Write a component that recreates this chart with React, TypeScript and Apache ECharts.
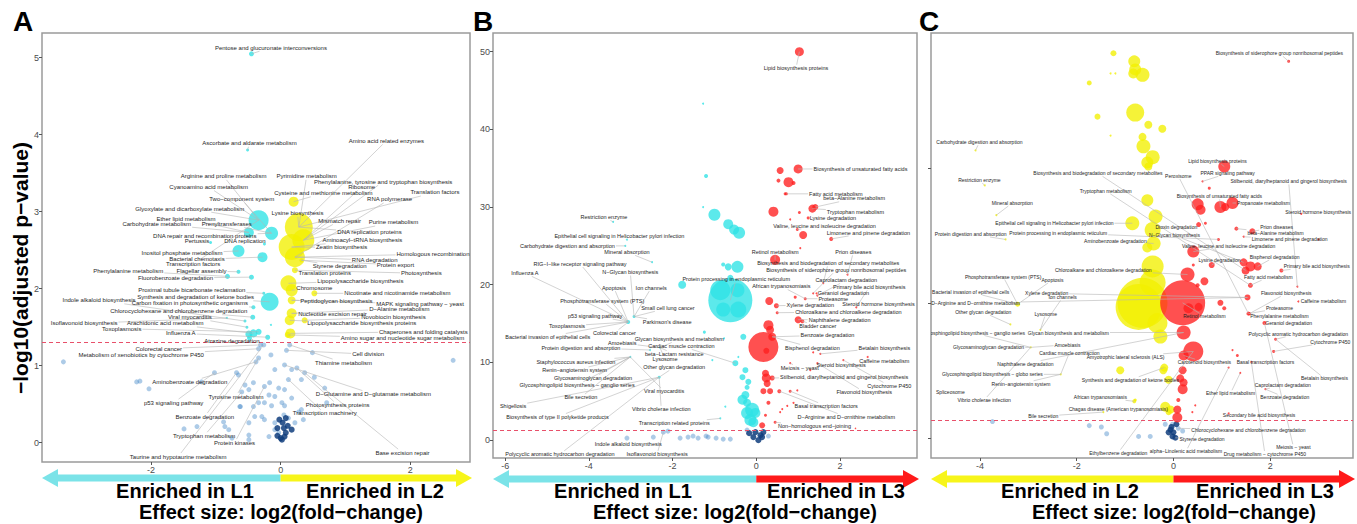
import React, { useEffect, useRef } from "react";
import * as echarts from "echarts";

// ---------------- Panel A (L1 vs L2) ----------------
// [log2FC, -log10(adj p), point size]
const A_CYAN = [
  [-0.45, 5.05, 5], [-0.51, 3.8, 3], [-0.34, 2.89, 20], [-0.14, 2.72, 13], [-0.49, 2.73, 10],
  [-0.65, 2.49, 12], [-0.28, 2.41, 10], [-0.25, 2.58, 3], [-0.17, 1.83, 18], [-0.82, 2.16, 5],
  [-0.45, 2.15, 5], [-0.65, 2.22, 4], [-0.26, 1.94, 3], [-0.42, 1.76, 4], [-0.55, 1.58, 3],
  [-0.42, 1.42, 8], [-0.34, 1.44, 6], [-0.2, 1.37, 5], [-0.15, 1.53, 2], [-1.08, 2.6, 3],
  [-0.43, 1.63, 5], [-0.52, 1.5, 3], [-0.49, 1.41, 7], [-0.83, 1.62, 2], [-0.48, 1.36, 5],
];
const A_YELLOW = [
  [0.2, 3.13, 10], [0.28, 2.8, 28], [0.17, 2.54, 26], [0.35, 2.63, 22], [0.22, 2.41, 20],
  [0.12, 2.07, 16], [0.17, 1.98, 12], [0.52, 1.94, 6], [0.17, 1.68, 10], [0.14, 1.59, 10],
  [0.37, 1.59, 6], [0.15, 1.42, 10], [0.11, 1.4, 6], [0.22, 2.24, 6], [0.32, 2.37, 4],
  [0.17, 1.85, 8],
];
const A_BLUE = [
  [-3.35, 1.05], [2.66, 1.07], [-2.22, 0.79], [-2.17, 0.8], [-2.03, 0.7], [-1.49, 0.18],
  [-1.29, 0.21], [-1.22, 0.79], [-1.02, 0.91], [-0.88, 0.27], [-0.8, 0.17], [-0.75, 0.06],
  [-0.68, 0.91], [-0.65, 0.88], [-0.62, 0.47], [-0.49, 0.1], [-0.49, 0.04], [-0.4, 0.34],
  [-0.38, 1.05], [-0.34, 1.1], [-0.34, 1.22], [-0.31, 1.27], [-0.25, 0.73], [-0.18, 0.62],
  [-0.15, 1.14], [-0.14, 0.48], [-0.09, 0.26], [-0.03, 0.13], [0.06, 1.01], [0.09, 1.2],
  [0.14, 1.27], [0.12, 0.82], [0.17, 0.58], [0.22, 0.26], [0.25, 0.97], [0.28, 0.4],
  [0.35, 0.3], [0.37, 0.91], [0.49, 1.17], [0.52, 0.85], [0.68, 0.71], [0.71, 0.52],
  [-0.6, 0.66], [-0.55, 0.75], [-0.34, 0.52], [-0.09, 0.95], [-0.03, 0.71], [0.06, 0.48],
  [0.05, 0.36], [0.12, 0.32], [-0.18, 0.08], [-0.09, 0.17], [-0.25, 0.3], [-0.26, 1.27],
  [-0.42, 0.78], [-0.49, 0.69], [-0.17, 0.78], [-0.09, 0.6], [0.02, 0.52], [0.06, 0.69],
  [0.17, 0.95], [0.32, 0.82], [0.32, 0.43], [-0.25, 0.52], [-0.42, 0.47], [-0.49, 0.26],
  [-0.86, 0.21], [-0.29, 0.34], [-0.63, 0.47],
];
const A_NAVY = [
  [0.02, 0.04], [0, 0.06], [0.06, 0.08], [-0.05, 0.09], [0.08, 0.13], [0.05, 0.19],
  [0.03, 0.26], [0.08, 0.32], [-0.05, 0.19], [0.11, 0.22], [-0.02, 0.3], [0.17, 0.17],
];
// [name, label x, label y, point x, point y]
const A_LABELS = [
  ["Pentose and glucuronate interconversions", -0.15, 5.13, -0.45, 5.05],
  ["Ascorbate and aldarate metabolism", -0.48, 3.89, -0.51, 3.8],
  ["Amino acid related enzymes", 1.63, 3.92, 0.28, 2.8],
  ["Arginine and proline metabolism", -0.88, 3.46, -0.34, 2.89],
  ["Pyrimidine metabolism", 0.4, 3.46, 0.28, 2.8],
  ["Phenylalanine, tyrosine and tryptophan biosynthesis", 1.58, 3.39, 0.35, 2.63],
  ["Ribosome", 1.25, 3.32, 0.35, 2.63],
  ["Cyanoamino acid metabolism", -1.11, 3.32, -0.34, 2.89],
  ["Cysteine and methionine metabolism", 0.66, 3.24, 0.2, 3.13],
  ["Translation factors", 2.38, 3.25, 0.28, 2.8],
  ["RNA polymerase", 1.68, 3.16, 0.22, 2.41],
  ["Two−component system", -0.6, 3.16, -0.14, 2.72],
  ["Glyoxylate and dicarboxylate metabolism", -1.4, 3.04, -0.34, 2.89],
  ["Lysine biosynthesis", 0.26, 2.98, 0.28, 2.8],
  ["Ether lipid metabolism", -1.46, 2.91, -0.49, 2.73],
  ["Mismatch repair", 0.91, 2.88, 0.35, 2.63],
  ["Purine metabolism", 1.74, 2.86, 0.35, 2.63],
  ["Carbohydrate metabolism", -1.91, 2.84, -0.49, 2.73],
  ["Prenyltransferases", -0.83, 2.84, -0.14, 2.72],
  ["DNA replication proteins", 1.37, 2.73, 0.28, 2.8],
  ["DNA repair and recombination proteins", -1.17, 2.69, -0.14, 2.72],
  ["Pertussis", -1.29, 2.62, -1.08, 2.6],
  ["DNA replication", -0.55, 2.62, -0.25, 2.58],
  ["Aminoacyl−tRNA biosynthesis", 1.26, 2.63, 0.17, 2.54],
  ["Zeatin biosynthesis", 0.94, 2.54, 0.17, 2.54],
  ["Inositol phosphate metabolism", -1.52, 2.46, -0.65, 2.49],
  ["Homologous recombination", 2.35, 2.45, 0.22, 2.41],
  ["Bacterial chemotaxis", -1.29, 2.38, -0.28, 2.41],
  ["RNA degradation", 1.45, 2.37, 0.22, 2.41],
  ["Transcription factors", -1.35, 2.32, -0.34, 2.89],
  ["Styrene degradation", 0.91, 2.29, 0.32, 2.37],
  ["Protein export", 1.77, 2.31, 0.32, 2.37],
  ["Phenylalanine metabolism", -2.35, 2.23, -0.82, 2.16],
  ["Flagellar assembly", -1.22, 2.23, -0.65, 2.22],
  ["Translation proteins", 0.68, 2.2, 0.22, 2.24],
  ["Photosynthesis", 2.17, 2.2, 0.22, 2.24],
  ["Fluorobenzoate degradation", -1.62, 2.14, -0.45, 2.15],
  ["Lipopolysaccharide biosynthesis", 1.23, 2.1, 0.12, 2.07],
  ["Chromosome", 0.52, 2.01, 0.17, 1.98],
  ["Proximal tubule bicarbonate reclamation", -1.37, 1.98, -0.26, 1.94],
  ["Nicotinate and nicotinamide metabolism", 1.8, 1.94, 0.52, 1.94],
  ["Synthesis and degradation of ketone bodies", -1.31, 1.89, -0.17, 1.83],
  ["Indole alkaloid biosynthesis", -2.8, 1.85, -0.55, 1.58],
  ["Peptidoglycan biosynthesis", 0.86, 1.84, 0.17, 1.85],
  ["Carbon fixation in photosynthetic organisms", -1.4, 1.81, -0.42, 1.76],
  ["MAPK signaling pathway − yeast", 2.15, 1.8, 0.17, 1.85],
  ["D−Alanine metabolism", 1.83, 1.74, 0.17, 1.68],
  ["Chlorocyclohexane and chlorobenzene degradation", -1.57, 1.71, -0.43, 1.63],
  ["Nucleotide excision repair", 0.8, 1.67, 0.17, 1.68],
  ["Viral myocarditis", -1.4, 1.63, -0.52, 1.5],
  ["Novobiocin biosynthesis", 1.74, 1.63, 0.37, 1.59],
  ["Isoflavonoid biosynthesis", -3.03, 1.55, -0.83, 1.62],
  ["Arachidonic acid metabolism", -1.78, 1.55, -0.42, 1.42],
  ["Lipopolysaccharide biosynthesis proteins", 1.25, 1.55, 0.14, 1.59],
  ["Toxoplasmosis", -2.45, 1.48, -0.34, 1.44],
  ["Chaperones and folding catalysts", 2.2, 1.44, 0.15, 1.42],
  ["Influenza A", -1.54, 1.42, -0.2, 1.37],
  ["Amino sugar and nucleotide sugar metabolism", 1.88, 1.36, 0.11, 1.4],
  ["Atrazine degradation", -0.75, 1.32, -0.31, 1.27],
  ["Colorectal cancer", -1.88, 1.22, -0.31, 1.27],
  ["Metabolism of xenobiotics by cytochrome P450", -2.15, 1.14, -0.34, 1.22],
  ["Cell division", 1.35, 1.15, 0.09, 1.2],
  ["Thiamine metabolism", 0.97, 1.04, 0.14, 1.27],
  ["Aminobenzoate degradation", -1.4, 0.79, -0.38, 1.05],
  ["D−Glutamine and D−glutamate metabolism", 1.43, 0.63, 0.06, 1.01],
  ["Tyrosine metabolism", -0.69, 0.6, -0.34, 1.1],
  ["p53 signaling pathway", -1.65, 0.52, -1.02, 0.91],
  ["Photosynthesis proteins", 0.88, 0.49, 0.25, 0.97],
  ["Transcription machinery", 0.68, 0.38, 0.12, 0.82],
  ["Benzoate degradation", -1.17, 0.34, -0.68, 0.91],
  ["Tryptophan metabolism", -1.18, 0.09, -0.6, 0.66],
  ["Protein kinases", -0.71, 0.0, -0.25, 0.73],
  ["Base excision repair", 1.88, -0.13, 0.37, 0.91],
  ["Taurine and hypotaurine metabolism", -1.58, -0.18, -0.26, 1.27],
];

// ---------------- Panel B (L1 vs L3) ----------------
const B_CYAN = [
  [-1.27, 43.3, 2], [-1.2, 34.0, 4], [-1.27, 30.0, 2], [-1.0, 29.0, 12], [-0.67, 27.8, 10],
  [-0.53, 27.1, 10], [-0.41, 26.7, 12], [-0.45, 22.3, 12], [-0.67, 22.3, 7], [-0.79, 22.6, 4],
  [-0.62, 20.9, 6], [-0.62, 18.0, 44], [-0.86, 19.3, 20], [-0.45, 19.3, 14], [-0.43, 16.8, 16],
  [-0.79, 16.8, 14], [-1.77, 20.0, 8], [-1.24, 13.9, 3], [-0.31, 13.3, 6], [-0.77, 13.1, 2],
  [-0.43, 10.7, 2], [-1.05, 10.3, 2], [-0.26, 9.0, 6], [-0.33, 8.1, 6], [-0.19, 7.5, 6],
  [-0.22, 6.8, 5], [-2.32, 8.1, 3], [-0.22, 4.8, 8], [-0.1, 3.9, 14], [-0.22, 3.5, 12],
  [-0.14, 2.6, 12], [-0.02, 3.5, 10], [-0.07, 2.3, 10], [-0.74, 4.3, 2], [-3.42, 28.1, 2],
  [-3.09, 25.8, 2], [-3.06, 15.2, 4], [-2.92, 15.9, 3], [-2.3, 11.9, 2], [-0.5, 9.9, 6],
  [-0.86, 2.8, 2], [-3.13, 25.0, 2], [-2.49, 22.9, 2], [-2.54, 11.6, 2], [-3.01, 10.7, 2],
  [-0.26, 5.8, 8], [-0.33, 5.2, 10],
];
const B_RED = [
  [1.03, 50.0, 9], [0.57, 34.7, 7], [1.0, 34.9, 9], [0.77, 33.2, 10], [0.53, 33.4, 4],
  [0.89, 33.1, 4], [0.72, 31.7, 3], [0.41, 29.4, 10], [1.03, 29.3, 3], [1.34, 29.8, 8],
  [1.41, 30.0, 6], [1.12, 26.4, 8], [1.79, 25.9, 4], [0.98, 27.1, 3], [0.45, 23.2, 10],
  [0.31, 17.9, 8], [0.48, 17.3, 5], [0.5, 16.4, 3], [1.0, 15.5, 7], [0.93, 18.4, 3],
  [1.44, 18.9, 2], [0.29, 14.8, 10], [0.33, 14.2, 8], [0.17, 12.0, 30], [0.38, 13.3, 8],
  [0.24, 11.5, 6], [0.24, 8.0, 9], [0.22, 8.6, 7], [0.26, 7.3, 7], [0.17, 6.3, 6],
  [0.33, 6.3, 6], [0.38, 8.0, 5], [0.55, 6.3, 4], [0.81, 6.3, 3], [0.98, 6.4, 2],
  [0.29, 4.8, 4], [0.22, 3.2, 3], [0.14, 1.9, 6], [0.57, 3.6, 2], [0.74, 4.4, 2],
  [1.29, 9.0, 2], [1.46, 9.9, 2], [2.08, 10.3, 2], [0.81, 9.9, 2], [1.36, 11.3, 2],
  [2.18, 21.3, 2], [1.6, 20.2, 2], [2.39, 17.1, 2], [1.36, 18.9, 2], [1.46, 18.6, 2],
  [1.17, 18.2, 3], [0.69, 31.7, 3], [1.24, 28.6, 3], [1.1, 15.3, 4], [1.53, 11.1, 2],
  [0.89, 4.8, 2], [0.62, 4.0, 2], [0.45, 2.3, 3], [2.37, 1.5, 1.5], [2.66, 10.7, 2],
  [1.05, 24.7, 2], [0.81, 28.4, 2],
];
const B_BLUE = [
  [-3.09, 0.26], [-2.46, 0.39], [-2.22, 1.03], [-1.63, 0.39], [-1.39, 0.26], [-1.15, 0.39],
  [-0.96, 0.26], [-0.79, 0.13], [-0.62, 0.13], [-1.2, 0.52], [-1.82, 0.26], [-2.11, 1.16],
  [-1.51, 0.52], [0.29, 0.52], [-0.22, 1.29],
];
const B_NAVY = [
  [-0.07, 0.39], [0.05, 0.0], [0.14, 0.39], [-0.02, 1.03], [0.17, 1.03], [-0.17, 0.9], [0.1, 0.64],
];
const B_LABELS = [
  ["Lipid biosynthesis proteins", 0.95, 47.9, 1.03, 50.0],
  ["Biosynthesis of unsaturated fatty acids", 2.49, 34.9, 1.0, 34.9],
  ["Restriction enzyme", -3.64, 28.7, -3.42, 28.1],
  ["Fatty acid metabolism", 1.9, 31.7, 0.72, 31.7],
  ["beta−Alanine metabolism", 2.34, 31.1, 1.41, 30.0],
  ["Tryptophan metabolism", 2.37, 29.4, 1.34, 29.8],
  ["Lysine degradation", 1.83, 28.6, 1.24, 28.6],
  ["Valine, leucine and isoleucine degradation", 1.63, 27.6, 0.98, 27.1],
  ["Limonene and pinene degradation", 2.68, 26.7, 1.79, 25.9],
  ["Epithelial cell signaling in Helicobacter pylori infection", -3.27, 26.3, -3.09, 25.8],
  ["Carbohydrate digestion and absorption", -4.51, 25.0, -3.13, 25.0],
  ["Mineral absorption", -3.09, 24.2, -2.49, 22.9],
  ["Retinol metabolism", 0.45, 24.2, 0.45, 23.2],
  ["Prion diseases", 2.32, 24.2, 2.18, 21.3],
  ["RIG−I−like receptor signaling pathway", -4.21, 22.7, -3.06, 15.2],
  ["Biosynthesis and biodegradation of secondary metabolites", 1.72, 22.8, 1.6, 20.2],
  ["Biosynthesis of siderophore group nonribosomal peptides", 1.91, 21.9, 1.36, 18.9],
  ["Influenza A", -5.53, 21.5, -3.06, 15.2],
  ["N−Glycan biosynthesis", -3.01, 21.6, -2.92, 15.9],
  ["Protein processing in endoplasmic reticulum", -0.48, 20.7, -0.62, 18.0],
  ["Caprolactam degradation", 2.15, 20.6, 1.46, 18.6],
  ["African trypanosomiasis", 0.6, 19.8, 1.17, 18.2],
  ["Primary bile acid biosynthesis", 2.7, 19.7, 2.39, 17.1],
  ["Apoptosis", -3.4, 19.6, -3.06, 15.2],
  ["Ion channels", -2.51, 19.6, -2.92, 15.9],
  ["Geraniol degradation", 2.08, 18.95, 1.46, 18.6],
  ["Proteasome", 1.84, 18.2, 1.17, 18.2],
  ["Phosphotransferase system (PTS)", -3.68, 17.9, -3.06, 15.2],
  ["Xylene degradation", 1.29, 17.4, 0.48, 17.3],
  ["Steroid hormone biosynthesis", 2.92, 17.5, 2.39, 17.1],
  ["Small cell lung cancer", -2.11, 17.0, -2.92, 15.9],
  ["Chloroalkane and chloroalkene degradation", 2.2, 16.5, 0.5, 16.4],
  ["p53 signaling pathway", -3.85, 16.0, -3.06, 15.2],
  ["Naphthalene degradation", 1.99, 15.5, 1.0, 15.5],
  ["Parkinson's disease", -2.13, 15.2, -2.92, 15.9],
  ["Toxoplasmosis", -4.52, 14.7, -3.06, 15.2],
  ["Bladder cancer", 1.47, 14.7, 1.1, 15.3],
  ["Colorectal cancer", -3.39, 13.8, -3.06, 15.2],
  ["Benzoate degradation", 1.7, 13.5, 0.38, 13.3],
  ["Bacterial invasion of epithelial cells", -4.98, 13.3, -3.06, 15.2],
  ["Glycan biosynthesis and metabolism", -1.84, 13.0, -2.3, 11.9],
  ["Amoebiasis", -3.2, 12.5, -2.3, 11.9],
  ["Cardiac muscle contraction", -1.79, 12.1, -0.5, 9.9],
  ["Protein digestion and absorption", -4.19, 11.9, -2.54, 11.6],
  ["Bisphenol degradation", 1.34, 11.9, 0.38, 13.3],
  ["Betalain biosynthesis", 3.06, 11.9, 1.53, 11.1],
  ["beta−Lactam resistance", -1.96, 11.1, -2.3, 11.9],
  ["Lysosome", -2.18, 10.4, -2.3, 11.9],
  ["Caffeine metabolism", 3.06, 10.2, 2.66, 10.7],
  ["Staphylococcus aureus infection", -4.31, 10.1, -3.01, 10.7],
  ["Other glycan degradation", -1.96, 9.4, -2.32, 8.1],
  ["Meiosis − yeast", 1.04, 9.3, 0.81, 9.9],
  ["Steroid biosynthesis", 2.03, 9.7, 1.46, 9.9],
  ["Renin−angiotensin system", -4.34, 9.0, -3.01, 10.7],
  ["Stilbenoid, diarylheptanoid and gingerol biosynthesis", 2.1, 8.1, 0.38, 8.0],
  ["Glycosaminoglycan degradation", -3.9, 8.0, -3.01, 10.7],
  ["Glycosphingolipid biosynthesis − ganglio series", -4.28, 7.1, -3.01, 10.7],
  ["Cytochrome P450", 3.18, 7.0, 2.08, 10.3],
  ["Viral myocarditis", -2.2, 6.3, -3.01, 10.7],
  ["Flavonoid biosynthesis", 2.58, 6.2, 1.46, 9.9],
  ["Bile secretion", -4.19, 5.5, -3.01, 10.7],
  ["Shigellosis", -5.81, 4.4, -2.32, 8.1],
  ["Vibrio cholerae infection", -2.27, 4.0, -2.32, 8.1],
  ["Basal transcription factors", 1.67, 4.4, 0.81, 6.3],
  ["Biosynthesis of type II polyketide products", -4.75, 3.0, -2.32, 8.1],
  ["D−Arginine and D−ornithine metabolism", 2.15, 3.0, 0.55, 6.3],
  ["Transcription related proteins", -1.96, 2.2, -0.86, 2.8],
  ["Non−homologous end−joining", 1.39, 1.8, 0.45, 2.3],
  ["Indole alkaloid biosynthesis", -3.06, -0.5, -3.09, 0.26],
  ["Polycyclic aromatic hydrocarbon degradation", -4.69, -1.8, -2.32, 8.1],
  ["Isoflavonoid biosynthesis", -2.37, -1.8, -2.22, 1.03],
];

// ---------------- Panel C (L2 vs L3) ----------------
const C_YELLOW = [
  [-1.24, 28.5, 6], [-0.81, 27.9, 12], [-0.79, 27.3, 12], [-0.64, 26.9, 14], [-0.83, 27.0, 10],
  [-1.74, 26.3, 5], [-1.3, 27.0, 2], [-1.2, 27.0, 2], [-0.79, 24.1, 18], [-1.57, 23.8, 6],
  [-0.52, 23.2, 8], [-0.23, 22.9, 8], [-1.3, 22.4, 2], [-0.64, 22.3, 8], [-0.62, 21.6, 14],
  [-0.43, 20.8, 14], [-0.54, 20.4, 12], [-0.52, 20.1, 8], [-0.54, 17.6, 12], [-0.85, 15.9, 14],
  [-0.37, 16.4, 14], [-0.43, 15.4, 16], [-0.41, 14.4, 14], [-0.54, 14.1, 10], [-0.64, 10.0, 50],
  [-0.72, 9.7, 46], [-0.43, 11.5, 26], [-0.43, 12.7, 22], [-0.33, 8.5, 20], [-0.27, 7.5, 14],
  [-1.1, 5.0, 8], [-0.21, 5.0, 8], [-0.1, 4.3, 8], [-0.79, 2.8, 3], [-0.17, 2.3, 10],
  [-0.06, 2.1, 8], [-0.1, 1.9, 6], [-3.22, 9.9, 5], [-3.9, 18.7, 2], [-3.66, 16.5, 2],
  [-3.47, 14.7, 2], [-3.37, 8.4, 2], [-2.75, 8.0, 2], [-4.09, 21.3, 2], [-2.95, 6.7, 2],
  [-2.33, 4.7, 2], [-1.45, 1.9, 2], [-0.81, 2.7, 4], [-0.19, 5.2, 8],
];
const C_RED = [
  [1.05, 20.1, 12], [0.74, 18.5, 3], [0.6, 19.0, 2], [0.5, 17.3, 12], [0.56, 16.9, 10],
  [0.97, 17.1, 12], [1.22, 17.4, 12], [1.07, 17.1, 8], [0.52, 15.8, 5], [0.66, 15.9, 3],
  [1.3, 15.5, 4], [1.63, 15.3, 6], [0.93, 14.7, 3], [1.45, 14.9, 2], [0.41, 13.8, 12],
  [0.79, 12.8, 6], [0.41, 12.8, 3], [1.45, 13.0, 8], [1.59, 12.7, 10], [1.74, 12.7, 8],
  [1.49, 12.4, 8], [0.29, 12.1, 14], [0.64, 11.6, 8], [0.5, 11.3, 4], [1.59, 11.3, 5],
  [0.19, 10.0, 45], [0.31, 9.6, 10], [0.52, 9.7, 8], [0.97, 10.0, 6], [1.05, 9.6, 4],
  [1.53, 10.4, 6], [1.57, 9.2, 3], [0.21, 7.8, 14], [0.41, 6.4, 20], [0.21, 6.1, 10],
  [0.19, 5.0, 8], [0.14, 4.4, 8], [0.21, 4.1, 8], [0.19, 3.6, 10], [0.1, 2.8, 4],
  [0.08, 2.1, 8], [0.08, 1.5, 10], [0.45, 2.4, 2], [1.14, 5.2, 2], [1.32, 6.1, 3],
  [1.22, 6.5, 2], [1.61, 5.6, 2], [2.11, 7.3, 3], [2.07, 6.4, 3], [1.38, 4.8, 2],
  [1.9, 3.6, 2], [0.39, 1.9, 2], [1.88, 8.5, 4], [1.55, 9.2, 4], [2.23, 12.4, 4],
  [2.56, 11.2, 2], [2.58, 10.1, 2], [2.64, 16.6, 2], [3.0, 14.7, 2], [2.38, 27.9, 3],
  [1.14, 1.8, 2],
];
const C_BLUE = [
  [-1.74, 0.9], [-1.49, 0.8], [-1.38, 0.3], [-0.72, 0.1], [-0.48, 0.1], [-3.74, 1.2],
  [-0.17, 1.0], [-0.02, 1.0], [0.1, 0.7], [0.19, 0.5],
];
const C_NAVY = [
  [-0.06, 0.6], [0, 0.4], [-0.02, 0.1], [0.04, 0], [-0.04, 0.8], [0.06, 1.0], [-0.1, 0.4],
];
const C_LABELS = [
  ["Biosynthesis of siderophore group nonribosomal peptides", 2.19, 28.5, 2.38, 27.9],
  ["Carbohydrate digestion and absorption", -4.01, 21.9, -4.09, 21.3],
  ["Lipid biosynthesis proteins", 0.91, 20.5, 1.05, 20.1],
  ["Biosynthesis and biodegradation of secondary metabolites", -1.56, 19.6, 1.49, 12.4],
  ["PPAR signaling pathway", 1.12, 19.6, 0.6, 19.0],
  ["Peroxisome", 0.1, 19.4, 1.55, 9.2],
  ["Stilbenoid, diarylheptanoid and gingerol biosynthesis", 2.38, 19.0, 2.56, 11.2],
  ["Restriction enzyme", -4.01, 19.1, -3.9, 18.7],
  ["Tryptophan metabolism", -1.4, 18.3, 1.59, 11.3],
  ["Biosynthesis of unsaturated fatty acids", 0.95, 17.9, 0.97, 17.1],
  ["Propanoate metabolism", 1.86, 17.4, 1.22, 17.4],
  ["Mineral absorption", -3.33, 17.4, -3.66, 16.5],
  ["Steroid hormone biosynthesis", 2.99, 16.7, 2.64, 16.6],
  ["Epithelial cell signaling in Helicobacter pylori infection", -2.46, 15.9, -0.85, 15.9],
  ["Dioxin degradation", 0.06, 15.6, 0.52, 15.8],
  ["Prion diseases", 2.13, 15.6, 1.63, 15.3],
  ["Protein digestion and absorption", -4.19, 15.1, -3.47, 14.7],
  ["Protein processing in endoplasmic reticulum", -2.38, 15.2, 0.93, 14.7],
  ["N−Glycan biosynthesis", 0.02, 15.0, 1.45, 13.0],
  ["beta−Alanine metabolism", 2.11, 15.2, 1.3, 15.5],
  ["Aminobenzoate degradation", -1.2, 14.6, -0.41, 14.4],
  ["Limonene and pinene degradation", 2.4, 14.7, 1.45, 14.9],
  ["Valine, leucine and isoleucine degradation", 1.14, 14.2, 0.41, 13.8],
  ["Lysine degradation", 0.95, 13.2, 0.79, 12.8],
  ["Bisphenol degradation", 2.09, 13.4, 1.74, 12.7],
  ["Primary bile acid biosynthesis", 2.96, 12.7, 2.23, 12.4],
  ["Chloroalkane and chloroalkene degradation", -1.45, 12.4, 0.29, 12.1],
  ["Fatty acid metabolism", 1.96, 11.9, 1.59, 11.3],
  ["Phosphotransferase system (PTS)", -3.52, 11.95, -3.22, 9.9],
  ["Apoptosis", -2.5, 11.7, -3.22, 9.9],
  ["Bacterial invasion of epithelial cells", -4.19, 10.8, -3.22, 9.9],
  ["Xylene degradation", -2.62, 10.7, 1.53, 10.4],
  ["Ion channels", -2.29, 10.4, -2.75, 8.0],
  ["Flavonoid biosynthesis", 2.33, 10.7, 1.57, 9.2],
  ["D−Arginine and D−ornithine metabolism", -4.09, 10.0, 1.53, 10.4],
  ["Caffeine metabolism", 3.1, 10.1, 2.58, 10.1],
  ["Other glycan degradation", -3.93, 9.3, -3.37, 8.4],
  ["Lysosome", -2.64, 9.2, -2.75, 8.0],
  ["Retinol metabolism", 0.64, 9.0, 0.19, 10.0],
  ["Proteasome", 2.19, 9.6, 1.55, 9.2],
  ["Phenylalanine metabolism", 2.19, 9.0, 1.57, 9.2],
  ["Geraniol degradation", 2.38, 8.5, 1.88, 8.5],
  ["Glycosphingolipid biosynthesis − ganglio series", -4.15, 7.8, -2.95, 6.7],
  ["Glycan biosynthesis and metabolism", -2.17, 7.8, 0.21, 7.8],
  ["Polycyclic aromatic hydrocarbon degradation", 2.58, 7.7, 2.11, 7.3],
  ["Cytochrome P450", 3.24, 7.1, 2.07, 6.4],
  ["Glycosaminoglycan degradation", -3.82, 6.7, -2.95, 6.7],
  ["Amoebiasis", -2.19, 6.9, -2.95, 6.7],
  ["Cardiac muscle contraction", -2.15, 6.3, -2.33, 4.7],
  ["Amyotrophic lateral sclerosis (ALS)", -0.99, 6.0, 0.41, 6.4],
  ["Naphthalene degradation", -3.06, 5.5, 0.21, 7.8],
  ["Carotenoid biosynthesis", 0.64, 5.6, 0.21, 6.1],
  ["Basal transcription factors", 1.9, 5.6, 1.61, 5.6],
  ["Glycosphingolipid biosynthesis − globo series", -3.74, 4.7, -2.33, 4.7],
  ["Betalain biosynthesis", 3.12, 4.4, 2.11, 7.3],
  ["Synthesis and degradation of ketone bodies", -0.89, 4.3, -0.19, 5.2],
  ["Renin−angiotensin system", -3.15, 4.0, -2.33, 4.7],
  ["Caprolactam degradation", 2.26, 3.9, 1.9, 3.6],
  ["Spliceosome", -4.61, 3.4, -4.61, 3.4],
  ["Ether lipid metabolism", 1.18, 3.3, 1.38, 4.8],
  ["Vibrio cholerae infection", -3.91, 2.8, -2.95, 6.7],
  ["Benzoate degradation", 2.3, 3.0, 1.9, 3.6],
  ["African trypanosomiasis", -1.51, 3.0, -0.81, 2.7],
  ["Chagas disease (American trypanosomiasis)", -1.14, 2.1, -0.1, 1.9],
  ["Secondary bile acid biosynthesis", 1.77, 1.7, 1.14, 1.8],
  ["Bile secretion", -2.69, 1.6, -1.45, 1.9],
  ["Chlorocyclohexane and chlorobenzene degradation", 1.55, 0.6, 0.1, 0.7],
  ["Styrene degradation", 0.59, -0.1, 0.04, 0],
  ["Ethylbenzene degradation", -1.14, -1.1, 0.41, 6.4],
  ["alpha−Linolenic acid metabolism", 0.26, -1.0, 1.14, 5.2],
  ["Drug metabolism − cytochrome P450", 1.89, -1.2, 1.61, 5.6],
  ["Meiosis − yeast", 2.48, -0.7, 1.88, 8.5],
];

const X_TICKS_A = [-2, 0, 2];
const Y_TICKS_A = [0, 1, 2, 3, 4, 5];
const X_TICKS_B = [-6, -4, -2, 0, 2];
const Y_TICKS_B = [0, 10, 20, 30, 40, 50];
const X_TICKS_C = [-4, -2, 0, 2];
const Y_TICKS_C = [0, 10, 20];
const P_CUTOFF = 1.3; // -log10(0.05)

const FONT = '"Liberation Sans", Arial, Helvetica, sans-serif';
const CYAN = "#2EE3E6";
const YELLOW = "#F2F000";
const RED = "#FF1F1F";

let measureCtx: CanvasRenderingContext2D | null = null;
function textWidth(t: string, fs: number) {
  if (!measureCtx) {
    const c = document.createElement("canvas");
    measureCtx = c.getContext("2d");
  }
  if (!measureCtx) return t.length * fs * 0.5;
  measureCtx.font = `${fs}px ${FONT}`;
  return measureCtx.measureText(t).width;
}

const PANELS = [
  {
    grid: { left: 42, top: 33, width: 428, height: 429 },
    x: [-3.68, 2.92], y: [-0.25, 5.32], xt: X_TICKS_A, yt: Y_TICKS_A, showY: true, fs: 6,
    sig: [[A_CYAN, CYAN], [A_YELLOW, YELLOW]], blue: A_BLUE, navy: A_NAVY, labels: A_LABELS,
  },
  {
    grid: { left: 493, top: 33, width: 424, height: 425 },
    x: [-6.29, 3.84], y: [-2.3, 52.4], xt: X_TICKS_B, yt: Y_TICKS_B, showY: true, fs: 5.5,
    sig: [[B_CYAN, CYAN], [B_RED, RED]], blue: B_BLUE, navy: B_NAVY, labels: B_LABELS,
  },
  {
    grid: { left: 931, top: 33, width: 422, height: 425 },
    x: [-5.01, 3.71], y: [-1.5, 30], xt: X_TICKS_C, yt: Y_TICKS_C, showY: false, fs: 5,
    sig: [[C_YELLOW, YELLOW], [C_RED, RED]], blue: C_BLUE, navy: C_NAVY, labels: C_LABELS,
  },
];

function labelSeries(gi: number, labels: any[], fs: number, part: "line" | "text") {
  return {
    type: "custom",
    xAxisIndex: gi,
    yAxisIndex: gi,
    clip: true,
    silent: true,
    z: part === "line" ? 4 : 6,
    data: labels.map((l) => [l[1], l[2], l[3], l[4]]),
    renderItem: (params: any, api: any) => {
      const item = labels[params.dataIndex];
      const p = api.coord([api.value(0), api.value(1)]);
      if (part === "text") {
        return {
          type: "text",
          style: {
            text: item[0], x: p[0], y: p[1], fill: "#1e1e1e",
            fontSize: fs, fontFamily: FONT, align: "center", verticalAlign: "middle",
          },
        };
      }
      const a = api.coord([api.value(2), api.value(3)]);
      const hw = textWidth(item[0], fs) / 2 + 1;
      const hh = fs * 0.6;
      const dx = a[0] - p[0];
      const dy = a[1] - p[1];
      if (Math.abs(dx) <= hw && Math.abs(dy) <= hh) return { type: "group", children: [] };
      const t = Math.min(dx !== 0 ? hw / Math.abs(dx) : Infinity, dy !== 0 ? hh / Math.abs(dy) : Infinity);
      const sx = p[0] + dx * t;
      const sy = p[1] + dy * t;
      if (Math.hypot(a[0] - sx, a[1] - sy) < 3) return { type: "group", children: [] };
      return {
        type: "line",
        shape: { x1: sx, y1: sy, x2: a[0], y2: a[1] },
        style: { stroke: "#b5b5b5", lineWidth: 0.6 },
      };
    },
  };
}

export default function App() {
  const ref = useRef<HTMLDivElement>(null);
  useEffect(() => {
    if (!ref.current) return;
    const chart = echarts.init(ref.current, null, { renderer: "svg" });
    const grids: any[] = [];
    const xAxes: any[] = [];
    const yAxes: any[] = [];
    const series: any[] = [];
    PANELS.forEach((p, i) => {
      grids.push({ ...p.grid, show: true, borderColor: "#9a9a9a", borderWidth: 1.5, backgroundColor: "#fff" });
      xAxes.push({
        type: "value", gridIndex: i, min: p.x[0], max: p.x[1], position: "bottom",
        splitLine: { show: false }, axisLine: { show: false, onZero: false },
        axisTick: { show: true, customValues: p.xt, length: 3, lineStyle: { color: "#555" } },
        axisLabel: { customValues: p.xt, fontSize: 9, color: "#4d4d4d", margin: 3, fontFamily: FONT },
      });
      yAxes.push({
        type: "value", gridIndex: i, min: p.y[0], max: p.y[1], position: "left",
        splitLine: { show: false }, axisLine: { show: false, onZero: false },
        axisTick: { show: true, customValues: p.yt, length: 3, lineStyle: { color: "#555" } },
        axisLabel: { show: p.showY, customValues: p.yt, fontSize: 9, color: "#4d4d4d", margin: 3, fontFamily: FONT },
      });
      series.push({
        type: "scatter", xAxisIndex: i, yAxisIndex: i, data: p.blue, symbolSize: 5, silent: true,
        itemStyle: { color: "#4a8cca", opacity: 0.45 }, z: 2,
        markLine: {
          silent: true, symbol: "none", label: { show: false },
          lineStyle: { color: "#E8506A", type: [4, 3], width: 1.2 },
          data: [{ yAxis: P_CUTOFF }],
        },
      });
      series.push({
        type: "scatter", xAxisIndex: i, yAxisIndex: i, data: p.navy, symbolSize: 6, silent: true,
        itemStyle: { color: "#0f3d7d", opacity: 0.85 }, z: 2,
      });
      p.sig.forEach(([data, color]: any) => {
        series.push({
          type: "scatter", xAxisIndex: i, yAxisIndex: i, data, silent: true,
          symbolSize: (v: number[]) => v[2],
          itemStyle: { color, opacity: 0.78 }, z: 3,
        });
      });
      series.push(labelSeries(i, p.labels, p.fs, "line"));
      series.push(labelSeries(i, p.labels, p.fs, "text"));
    });

    chart.setOption({
      animation: false,
      backgroundColor: "#fff",
      grid: grids,
      xAxis: xAxes,
      yAxis: yAxes,
      series,
    });

    const arrowCols = [["#7BE3E8", "#F7F51A"], ["#7BE3E8", "#FF1A1A"], ["#F7F51A", "#FF1A1A"]];
    const arrowY = [478, 479, 479];
    const sideText = [
      ["Enriched in L1", 185, "Enriched in L2", 375, 281],
      ["Enriched in L1", 623, "Enriched in L3", 836, 735],
      ["Enriched in L2", 1070, "Enriched in L3", 1265, 1174],
    ];
    const gfx: any[] = [];
    PANELS.forEach((p, i) => {
      const L = p.grid.left;
      const R = p.grid.left + p.grid.width + 2;
      const x0 = chart.convertToPixel({ xAxisIndex: i } as any, 0) as unknown as number;
      const y = arrowY[i];
      const [c1, c2] = arrowCols[i];
      gfx.push({ type: "rect", shape: { x: L + 14, y: y - 3.5, width: x0 - L - 14, height: 7 }, style: { fill: c1 } });
      gfx.push({ type: "polygon", shape: { points: [[L, y], [L + 16, y - 9], [L + 16, y + 9]] }, style: { fill: c1 } });
      gfx.push({ type: "rect", shape: { x: x0, y: y - 3.5, width: R - 14 - x0, height: 7 }, style: { fill: c2 } });
      gfx.push({ type: "polygon", shape: { points: [[R, y], [R - 16, y - 9], [R - 16, y + 9]] }, style: { fill: c2 } });
      const st = sideText[i];
      const bold = { fontSize: 20, fontWeight: "bold", fontFamily: FONT, fill: "#000", align: "center", verticalAlign: "middle" };
      gfx.push({ type: "text", x: st[1], y: 491, style: { ...bold, text: st[0] } });
      gfx.push({ type: "text", x: st[3], y: 491, style: { ...bold, text: st[2] } });
      gfx.push({ type: "text", x: st[4], y: 512, style: { ...bold, text: "Effect size: log2(fold−change)" } });
    });
    const letters = [["A", 23], ["B", 483], ["C", 929]];
    letters.forEach(([t, x]) => {
      gfx.push({ type: "text", x, y: 21, style: { text: t, fontSize: 28, fontWeight: "bold", fontFamily: FONT, fill: "#000", align: "center", verticalAlign: "middle" } });
    });
    gfx.push({
      type: "text", x: 20, y: 268, rotation: Math.PI / 2,
      style: { text: "−log10(adjusted p−value)", fontSize: 21, fontWeight: "bold", fontFamily: FONT, fill: "#000", align: "center", verticalAlign: "middle" },
    });
    chart.setOption({ graphic: gfx });

    return () => chart.dispose();
  }, []);
  return (
    <div
      ref={ref}
      style={{ position: "absolute", left: 0, top: 0, width: 1357, height: 524, background: "#fff" }}
    />
  );
}
